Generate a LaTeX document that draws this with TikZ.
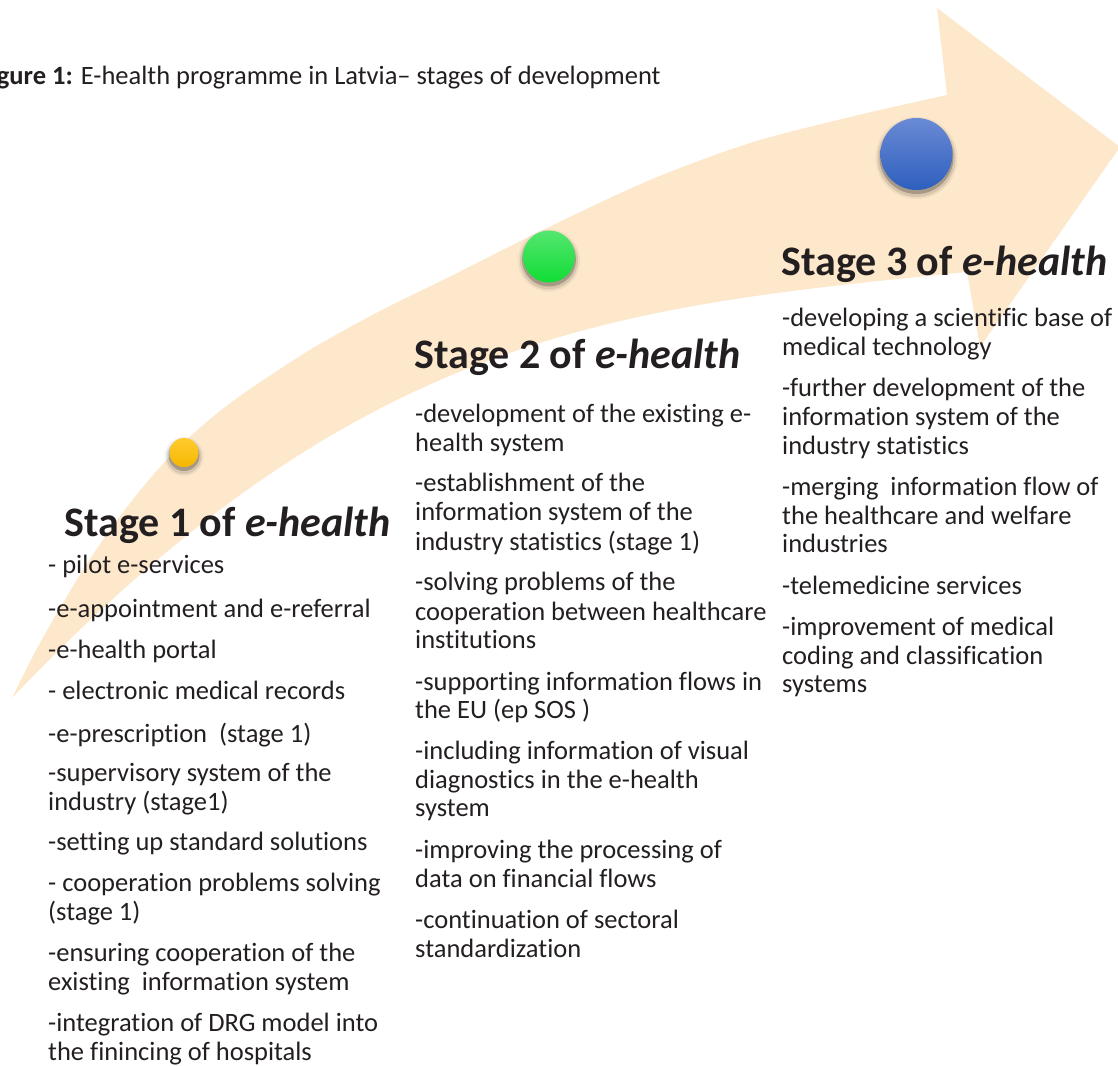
\documentclass[tikz,border=0pt]{standalone}
\usepackage{fontspec}
\setmainfont{Carlito}[Ligatures=NoCommon]
\definecolor{txt}{HTML}{231F20}
\definecolor{band}{HTML}{FDE8CC}
\definecolor{yelT}{HTML}{FFCB2E}
\definecolor{yelB}{HTML}{F5B700}
\definecolor{grnT}{HTML}{55E670}
\definecolor{grnB}{HTML}{10DD35}
\definecolor{bluT}{HTML}{6A8AD4}
\definecolor{bluB}{HTML}{2E5FBE}
\newcommand\bfnt{\fontsize{26.5}{28.5}\selectfont}
\newcommand\hfnt{\fontsize{42}{46}\selectfont\bfseries}
\tikzset{
  body/.style={anchor=base west, inner sep=0pt, font=\bfnt, text=txt},
  head/.style={anchor=base west, inner sep=0pt, font=\hfnt, text=txt},
}
\newcommand\dotc[5]{%
  \fill[black, opacity=0.05] (#1,#2+4) circle (#3+5);
  \fill[black, opacity=0.10] (#1,#2+4) circle (#3+3);
  \fill[black, opacity=0.22] (#1,#2+3) circle (#3+1);
  \shade[top color=#4, bottom color=#5] (#1,#2) circle (#3);
}
\begin{document}
\begin{tikzpicture}[x=1pt,y=-1pt]
\useasboundingbox (0,0) rectangle (1118,1065);
% curved arrow
\fill[band] plot[smooth, tension=0.5] coordinates {(12,698) (35,652) (60,608) (86,565) (115,523) (147,482) (180,446) (215,415) (250,389) (313,348) (380,311) (447,278) (549,227) (650,180) (750,143) (850,117) (947,95)}
  -- (937,8) -- (1120,147) -- (980,347) -- (967,272)
  .. controls (617,307) and (362,330) .. (12,698) -- cycle;
% dots
\dotc{184}{452.5}{14.5}{yelT}{yelB}
\dotc{549}{256.5}{26}{grnT}{grnB}
\dotc{916.5}{154}{36}{bluT}{bluB}
% caption
\node[body] (cap) at (-22,84) {\textbf{Figure 1:} E-health programme in Latvia– stages of development};
% stage 1
\node[head] (h1) at (64,536) {Stage 1 of \textit{e-health}};
\node[body] (s1a) at (48,573) {- pilot e-services};
\node[body] (s1b) at (48,617) {-e-appointment and e-referral};
\node[body] (s1c) at (48,658) {-e-health portal};
\node[body] (s1d) at (48,699) {- electronic medical records};
\node[body] (s1e) at (48,742) {-e-prescription \ (stage 1)};
\node[body] (s1f) at (48,781.7) {-supervisory system of the};
\node[body] (s1g) at (48,810) {industry (stage1)};
\node[body] (s1h) at (48,850) {-setting up standard solutions};
\node[body] (s1i) at (48,891.7) {- cooperation problems solving};
\node[body] (s1j) at (48,920) {(stage 1)};
\node[body] (s1k) at (48,961.7) {-ensuring cooperation of the};
\node[body] (s1l) at (48,990) {existing \ information system};
\node[body] (s1m) at (48,1031.7) {-integration of DRG model into};
\node[body] (s1n) at (48,1060) {the finincing of hospitals};
% stage 2
\node[head] (h2) at (414,368) {Stage 2 of \textit{e-health}};
\node[body] (s2a) at (415,422.7) {-development of the existing e-};
\node[body] (s2b) at (415,451) {health system};
\node[body] (s2c) at (415,491.7) {-establishment of the};
\node[body] (s2d) at (415,520) {information system of the};
\node[body] (s2e) at (415,550) {industry statistics (stage 1)};
\node[body] (s2f) at (415,590.7) {-solving problems of the};
\node[body] (s2g) at (415,620) {cooperation between healthcare};
\node[body] (s2h) at (415,648.3) {institutions};
\node[body] (s2i) at (415,690) {-supporting information flows in};
\node[body] (s2j) at (415,718) {the EU (ep SOS )};
\node[body] (s2k) at (415,759.5) {-including information of visual};
\node[body] (s2l) at (415,788) {diagnostics in the e-health};
\node[body] (s2m) at (415,816.5) {system};
\node[body] (s2n) at (415,858.5) {-improving the processing of};
\node[body] (s2o) at (415,887) {data on financial flows};
\node[body] (s2p) at (415,928.5) {-continuation of sectoral};
\node[body] (s2q) at (415,957) {standardization};
% stage 3
\node[head] (h3) at (781,275) {Stage 3 of \textit{e-health}};
\node[body] (s3a) at (782,326.7) {-developing a scientific base of};
\node[body] (s3b) at (782,355) {medical technology};
\node[body] (s3c) at (782,396.7) {-further development of the};
\node[body] (s3d) at (782,425.5) {information system of the};
\node[body] (s3e) at (782,454) {industry statistics};
\node[body] (s3f) at (782,495.5) {-merging \ information flow of};
\node[body] (s3g) at (782,524) {the healthcare and welfare};
\node[body] (s3h) at (782,552.5) {industries};
\node[body] (s3i) at (782,594) {-telemedicine services};
\node[body] (s3j) at (782,635.5) {-improvement of medical};
\node[body] (s3k) at (782,664) {coding and classification};
\node[body] (s3l) at (782,692.5) {systems};
\end{tikzpicture}
\end{document}
